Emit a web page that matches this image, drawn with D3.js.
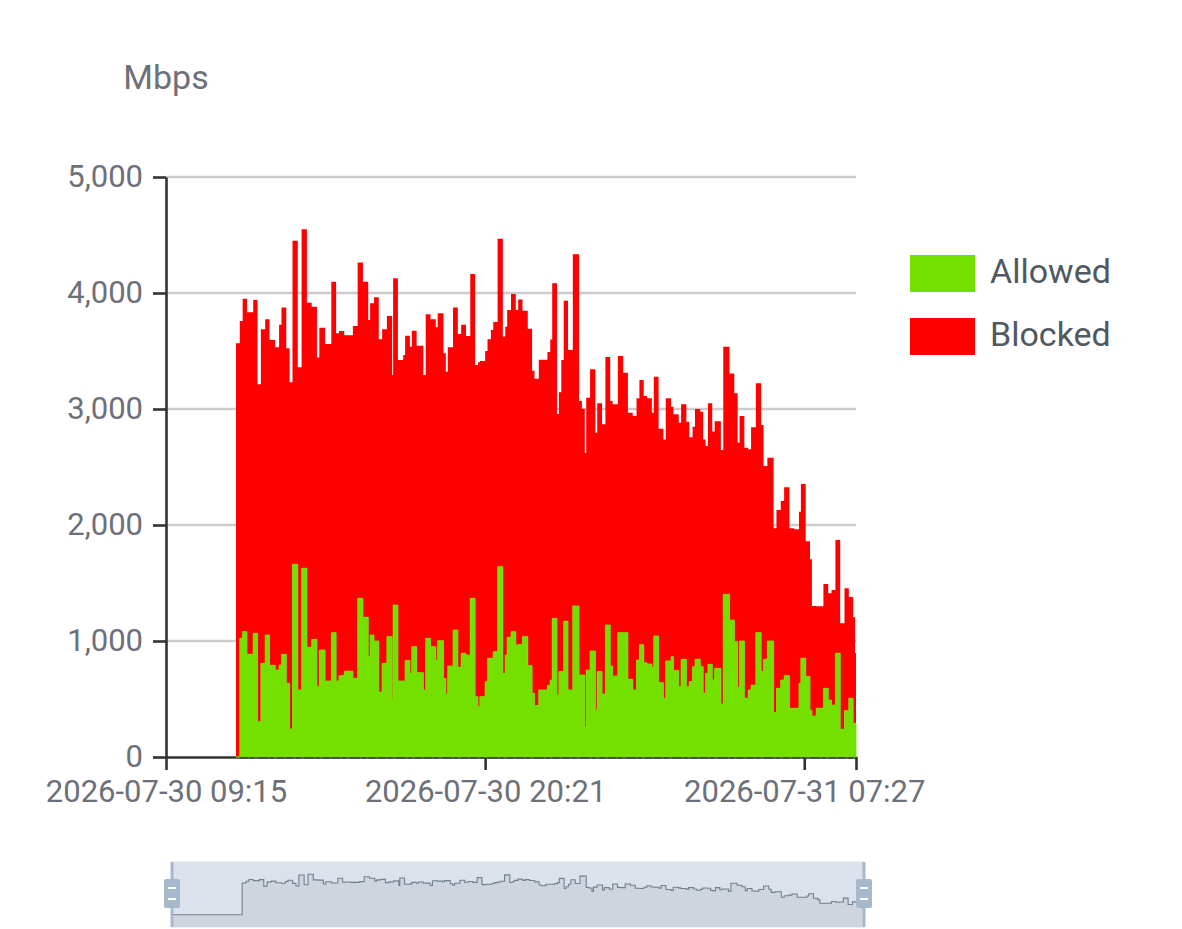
<!DOCTYPE html>
<html>
<head>
<meta charset="utf-8">
<script src="https://cdn.jsdelivr.net/npm/d3@7"></script>
<style>
  html, body { margin: 0; padding: 0; background: #fff; }
  svg { display: block; font-family: Roboto, "Noto Sans", sans-serif; }
</style>
</head>
<body>
<svg id="chart" width="1182" height="929"></svg>
<script>
// samples (start of each step), 2026-07-30 09:15 -> 2026-07-31 09:15
const times = [
  "09:15","11:41","11:49","11:55","12:04","12:17","12:26","12:33","12:42","12:51",
  "13:03","13:11","13:16","13:26","13:33","13:39","13:50","13:58","14:09","14:19",
  "14:30","14:35","14:47","15:00","15:10","15:16","15:27","15:45","15:55","16:06",
  "16:17","16:21","16:29","16:39","16:46","16:56","17:07","17:09","17:19","17:30",
  "17:34","17:44","17:48","17:58","18:12","18:17","18:27","18:38","18:42","18:54",
  "18:59","19:03","19:14","19:24","19:31","19:41","19:50","20:00","20:06","20:10",
  "20:21","20:26","20:33","20:38","20:47","20:58","21:03","21:07","21:15","21:25",
  "21:30","21:39","21:50","21:59","22:04","22:13","22:31","22:37","22:41","22:51",
  "22:55","23:00","23:05","23:14","23:24","23:37","23:43","23:49","23:52","00:00",
  "00:11","00:15","00:25","00:32","00:42","00:47","00:58","01:09","01:19","01:29",
  "01:37","01:43","01:52","01:59","02:09","02:13","02:23","02:33","02:38","02:49",
  "02:54","03:05","03:10","03:21","03:27","03:34","03:39","03:50","03:56","04:01",
  "04:06","04:15","04:20","04:33","04:38","04:51","05:01","05:08","05:12","05:22",
  "05:30","05:36","05:46","05:57","06:02","06:10","06:23","06:29","06:38","06:45",
  "06:56","07:06","07:16","07:20","07:30","07:39","07:43","07:52","08:07","08:17",
  "08:24","08:32","08:42","08:51","09:00","09:09","09:13"
];

const allowed = [
  0, 0, 1023, 1080, 885, 1066, 304, 807, 1052, 790,
  750, 793, 885, 635, 241, 1661, 578, 1627, 945, 1014,
  606, 922, 655, 1072, 655, 700, 740, 678, 1368, 1204,
  865, 1052, 1000, 560, 807, 1037, 491, 1310, 655, 655,
  831, 721, 951, 727, 578, 1023, 951, 836, 1003, 678,
  543, 784, 1095, 773, 894, 879, 1368, 520, 434, 520,
  649, 851, 851, 908, 1641, 721, 879, 1032, 1080, 966,
  970, 1037, 787, 549, 443, 578, 618, 664, 1195, 534,
  736, 736, 1170, 578, 1302, 707, 707, 253, 750, 914,
  405, 736, 543, 1138, 784, 698, 1072, 1072, 670, 578,
  836, 968, 813, 802, 773, 1043, 641, 506, 828, 865,
  745, 606, 842, 606, 650, 779, 842, 779, 549, 721,
  799, 664, 764, 457, 1402, 1181, 994, 600, 1000, 506,
  578, 620, 1072, 736, 842, 1000, 382, 592, 664, 701,
  420, 420, 635, 851, 693, 405, 353, 420, 592, 491,
  448, 894, 239, 399, 506, 290, 290
];

const blocked = [
  0, 3566, 2735, 2871, 2948, 2874, 2909, 2880, 2721, 2805,
  2782, 2934, 2989, 2888, 2989, 2790, 2781, 2922, 2972, 2868,
  2837, 2779, 2905, 3026, 2997, 2972, 2895, 3038, 2894, 2894,
  2902, 2859, 2963, 3041, 2880, 2765, 2802, 2817, 2767, 2811,
  2801, 2816, 2724, 2818, 2715, 2794, 2822, 2868, 2822, 2802,
  2779, 2748, 2779, 2874, 2833, 2750, 2796, 2859, 2968, 2894,
  2851, 2750, 2830, 2842, 2827, 2903, 2831, 2821, 2911, 2887,
  2975, 2811, 2905, 2781, 2817, 2847, 2873, 2936, 2888, 2423,
  2408, 2686, 2764, 2930, 3031, 2362, 2296, 2368, 2348, 2428,
  2391, 2313, 2325, 2310, 2285, 2342, 2385, 2241, 2298, 2362,
  2256, 2282, 2299, 2290, 2195, 2236, 2189, 2232, 2264, 2155,
  2209, 2276, 2198, 2285, 2106, 2069, 2158, 2198, 2189, 1960,
  2250, 2141, 2131, 2190, 2135, 2126, 2141, 2110, 1940, 2159,
  2074, 2222, 2149, 2126, 1667, 1580, 1589, 1537, 1543, 1624,
  1551, 1543, 1479, 1502, 1167, 1299, 949, 880, 899, 920,
  992, 976, 913, 1055, 873, 914, 606
];

const seriesNames = ["Allowed", "Blocked"];
const seriesColors = ["#74e000", "#ff0000"];
const yTicks = [0, 1000, 2000, 3000, 4000, 5000];
const xTickTimes = ["2026-07-30 09:15", "2026-07-30 20:21", "2026-07-31 07:27", "2026-07-31 09:15"];
const windowStart = "2026-07-30 09:15";
const windowEnd = "2026-07-31 09:15";
const unit = "Mbps";

const margin = { top: 177, right: 324, bottom: 172, left: 166 };
const W = 1182, H = 929;
const labelColor = "#6E7079";
const axisColor = "#333";

const parse = d3.timeParse("%Y-%m-%d %H:%M");
const fmt = d3.timeFormat("%Y-%m-%d %H:%M");

// rows with date rollover after midnight
let day = 30, prev = -1;
const rows = times.map((t, i) => {
  const m = +t.slice(0, 2) * 60 + +t.slice(3);
  if (m < prev) day++;
  prev = m;
  return { date: parse(`2026-07-${day} ${t}`), Allowed: allowed[i], Blocked: blocked[i] };
});
// last step runs to the end of the window
const last = rows[rows.length - 1];
const rowsExt = rows.concat([{ date: parse(windowEnd), Allowed: last.Allowed, Blocked: last.Blocked }]);
// drop the leading zero run for the main areas (it only shows in the slider)
const firstLive = rowsExt.findIndex(d => d.Allowed + d.Blocked > 0);
const liveRows = rowsExt.slice(firstLive);

const svg = d3.select("#chart");

const x = d3.scaleTime()
  .domain([parse(windowStart), parse(windowEnd)])
  .range([margin.left, W - margin.right - 2]);
const y = d3.scaleLinear().domain([0, 5000]).range([H - margin.bottom, margin.top]);
const y0 = y(0);

// grid
svg.append("g").selectAll("line")
  .data(yTicks.filter(d => d > 0))
  .join("line")
  .attr("x1", x.range()[0]).attr("x2", x.range()[1])
  .attr("y1", d => y(d)).attr("y2", d => y(d))
  .attr("stroke", "#cccccc").attr("stroke-width", 2.6);

// x axis line (under series)
const xAxis = svg.append("g")
  .attr("transform", `translate(0,${y0})`)
  .call(d3.axisBottom(x)
    .tickValues(xTickTimes.map(parse))
    .tickFormat((d, i) => i < 3 ? fmt(d) : "")
    .tickSize(13).tickSizeOuter(0).tickPadding(10));
xAxis.select(".domain").attr("stroke", axisColor).attr("stroke-width", 2.6);
xAxis.selectAll(".tick line").attr("stroke", axisColor).attr("stroke-width", 2.6);
xAxis.selectAll("text")
  .attr("font-size", 31).attr("fill", labelColor).attr("font-family", "Roboto");

// stacked step areas
const stacked = d3.stack().keys(seriesNames)(liveRows);
const area = d3.area()
  .curve(d3.curveStepAfter)
  .x(d => x(d.data.date))
  .y0(d => y(d[0]))
  .y1(d => y(d[1]));

svg.append("g").selectAll("path")
  .data(stacked.slice().reverse())
  .join("path")
  .attr("d", area)
  .attr("fill", d => seriesColors[d.index])
  .attr("stroke", d => d.index === 0 ? seriesColors[0] : "none")
  .attr("stroke-width", 0.8);

// broken axis line peeking under the green area
svg.append("line")
  .attr("x1", x(rows[2].date)).attr("x2", x.range()[1])
  .attr("y1", y0 + 0.9).attr("y2", y0 + 0.9)
  .attr("stroke", "#3a3a3a").attr("stroke-width", 1.2)
  .attr("stroke-dasharray", "8,2,5,3,10,2,4,3,7,2");

// y axis
const yAxis = svg.append("g")
  .attr("transform", `translate(${margin.left},0)`)
  .call(d3.axisLeft(y).tickValues(yTicks).tickFormat(d3.format(","))
    .tickSize(13).tickSizeOuter(0).tickPadding(10));
yAxis.select(".domain").attr("stroke", axisColor).attr("stroke-width", 2.6);
yAxis.selectAll(".tick line").attr("stroke", axisColor).attr("stroke-width", 2.6);
yAxis.selectAll("text")
  .attr("font-size", 31).attr("fill", labelColor).attr("font-family", "Roboto");

svg.append("text")
  .attr("x", margin.left).attr("y", 89)
  .attr("text-anchor", "middle")
  .attr("font-size", 34).attr("fill", labelColor)
  .text(unit);

// legend
const legend = svg.append("g").attr("transform", "translate(910,255)");
const item = legend.selectAll("g").data(seriesNames).join("g")
  .attr("transform", (d, i) => `translate(0,${i * 63})`);
item.append("rect")
  .attr("width", 65).attr("height", 37)
  .attr("fill", (d, i) => seriesColors[i]);
item.append("text")
  .attr("x", 80).attr("y", 28)
  .attr("font-size", 34).attr("fill", "#505862")
  .text(d => d);

// data zoom slider
const sTop = 862, sBottom = 927;
const sx = d3.scaleTime().domain(x.domain()).range([172, 864]);
const totals = rowsExt.map(d => d.Allowed + d.Blocked);
const ext = d3.extent(totals);
const pad = (ext[1] - ext[0]) * 0.3;
const sy = d3.scaleLinear().domain([ext[0] - pad, ext[1] + pad]).range([sBottom, sTop]);

const slider = svg.append("g");
slider.append("rect")
  .attr("x", sx.range()[0]).attr("y", sTop)
  .attr("width", sx.range()[1] - sx.range()[0]).attr("height", sBottom - sTop)
  .attr("fill", "rgba(167,183,204,0.4)")
  .attr("stroke", "#dde2ea").attr("stroke-width", 1);

slider.append("path")
  .datum(rowsExt)
  .attr("d", d3.area().curve(d3.curveStepAfter)
    .x(d => sx(d.date)).y0(sBottom).y1(d => sy(d.Allowed + d.Blocked)))
  .attr("fill", "rgba(47,69,84,0.08)");

slider.append("path")
  .datum(rowsExt)
  .attr("d", d3.line().curve(d3.curveStepAfter)
    .x(d => sx(d.date)).y(d => sy(d.Allowed + d.Blocked)))
  .attr("fill", "none")
  .attr("stroke", "#2f4554").attr("stroke-opacity", 0.6).attr("stroke-width", 1.1);

const handles = slider.selectAll("g.handle").data(sx.range()).join("g")
  .attr("class", "handle")
  .attr("transform", d => `translate(${d},0)`);
handles.append("rect")
  .attr("x", -1.5).attr("y", sTop).attr("width", 3).attr("height", sBottom - sTop)
  .attr("fill", "#a7b7cc");
handles.append("rect")
  .attr("x", -8).attr("y", 879).attr("width", 16).attr("height", 29).attr("rx", 2)
  .attr("fill", "#a7b7cc");
handles.selectAll("line").data([888, 899]).join("line")
  .attr("x1", -4).attr("x2", 4)
  .attr("y1", d => d).attr("y2", d => d)
  .attr("stroke", "#fff").attr("stroke-width", 2);
</script>
</body>
</html>
